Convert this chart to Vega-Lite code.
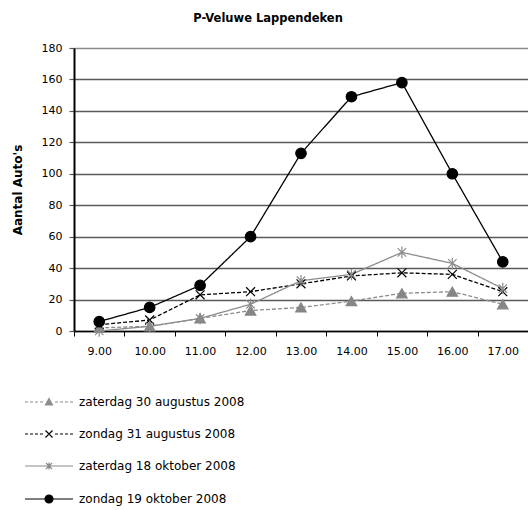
{
  "$schema": "https://vega.github.io/schema/vega-lite/v6.json",
  "width": 454,
  "height": 283,
  "autosize": {"type": "none"},
  "padding": {"left": 74, "top": 48, "right": 0, "bottom": 179},
  "background": "white",
  "config": {"font": "DejaVu Sans", "view": {"stroke": null}},
  "title": {"text": "P-Veluwe Lappendeken", "fontSize": 11.5, "fontWeight": "bold", "color": "#000", "baseline": "alphabetic", "offset": 9, "dx": -33},
  "data": {"values": [
    {"tijd": "9.00", "serie": "zaterdag 30 augustus 2008", "aantal": 2},
    {"tijd": "10.00", "serie": "zaterdag 30 augustus 2008", "aantal": 3},
    {"tijd": "11.00", "serie": "zaterdag 30 augustus 2008", "aantal": 8},
    {"tijd": "12.00", "serie": "zaterdag 30 augustus 2008", "aantal": 13},
    {"tijd": "13.00", "serie": "zaterdag 30 augustus 2008", "aantal": 15},
    {"tijd": "14.00", "serie": "zaterdag 30 augustus 2008", "aantal": 19},
    {"tijd": "15.00", "serie": "zaterdag 30 augustus 2008", "aantal": 24},
    {"tijd": "16.00", "serie": "zaterdag 30 augustus 2008", "aantal": 25},
    {"tijd": "17.00", "serie": "zaterdag 30 augustus 2008", "aantal": 17},
    {"tijd": "9.00", "serie": "zondag 31 augustus 2008", "aantal": 4},
    {"tijd": "10.00", "serie": "zondag 31 augustus 2008", "aantal": 7},
    {"tijd": "11.00", "serie": "zondag 31 augustus 2008", "aantal": 23},
    {"tijd": "12.00", "serie": "zondag 31 augustus 2008", "aantal": 25},
    {"tijd": "13.00", "serie": "zondag 31 augustus 2008", "aantal": 30},
    {"tijd": "14.00", "serie": "zondag 31 augustus 2008", "aantal": 35},
    {"tijd": "15.00", "serie": "zondag 31 augustus 2008", "aantal": 37},
    {"tijd": "16.00", "serie": "zondag 31 augustus 2008", "aantal": 36},
    {"tijd": "17.00", "serie": "zondag 31 augustus 2008", "aantal": 25},
    {"tijd": "9.00", "serie": "zaterdag 18 oktober 2008", "aantal": 0},
    {"tijd": "10.00", "serie": "zaterdag 18 oktober 2008", "aantal": 3},
    {"tijd": "11.00", "serie": "zaterdag 18 oktober 2008", "aantal": 8},
    {"tijd": "12.00", "serie": "zaterdag 18 oktober 2008", "aantal": 17},
    {"tijd": "13.00", "serie": "zaterdag 18 oktober 2008", "aantal": 32},
    {"tijd": "14.00", "serie": "zaterdag 18 oktober 2008", "aantal": 36},
    {"tijd": "15.00", "serie": "zaterdag 18 oktober 2008", "aantal": 50},
    {"tijd": "16.00", "serie": "zaterdag 18 oktober 2008", "aantal": 43},
    {"tijd": "17.00", "serie": "zaterdag 18 oktober 2008", "aantal": 27},
    {"tijd": "9.00", "serie": "zondag 19 oktober 2008", "aantal": 6},
    {"tijd": "10.00", "serie": "zondag 19 oktober 2008", "aantal": 15},
    {"tijd": "11.00", "serie": "zondag 19 oktober 2008", "aantal": 29},
    {"tijd": "12.00", "serie": "zondag 19 oktober 2008", "aantal": 60},
    {"tijd": "13.00", "serie": "zondag 19 oktober 2008", "aantal": 113},
    {"tijd": "14.00", "serie": "zondag 19 oktober 2008", "aantal": 149},
    {"tijd": "15.00", "serie": "zondag 19 oktober 2008", "aantal": 158},
    {"tijd": "16.00", "serie": "zondag 19 oktober 2008", "aantal": 100},
    {"tijd": "17.00", "serie": "zondag 19 oktober 2008", "aantal": 44}
  ]},
  "encoding": {
    "x": {
      "field": "tijd", "type": "ordinal", "sort": null, "bandPosition": 0.5,
      "scale": {"type": "band", "paddingInner": 0, "paddingOuter": 0},
      "axis": {"title": null, "labelAngle": 0, "tickBand": "extent", "grid": false,
        "domainColor": "#000", "domainWidth": 1.5, "tickColor": "#000", "tickWidth": 1, "tickSize": 5,
        "labelPadding": 9, "labelFontSize": 11, "labelColor": "#000", "labelFont": "DejaVu Sans"}
    },
    "y": {
      "field": "aantal", "type": "quantitative",
      "scale": {"domain": [0, 180], "nice": false},
      "axis": {"values": [0, 20, 40, 60, 80, 100, 120, 140, 160, 180],
        "title": "Aantal Auto's", "titleFontSize": 12, "titleFontWeight": "bold", "titleColor": "#000", "titleFont": "DejaVu Sans", "titlePadding": 17,
        "grid": true, "gridColor": {"condition": {"test": "datum.value === 180", "value": "#8a8a8a"}, "value": "#5a5a5a"}, "gridWidth": 1.3,
        "domainColor": "#000", "domainWidth": 2, "tickColor": "#5a5a5a", "tickSize": 5, "tickWidth": 1.2,
        "labelPadding": 7, "labelFontSize": 11, "labelColor": "#000", "labelFont": "DejaVu Sans"}
    }
  },
  "resolve": {"scale": {"shape": "independent", "fill": "independent", "stroke": "independent"}},
  "layer": [
    {
      "mark": {"type": "line", "strokeWidth": 1.3},
      "encoding": {
        "color": {
          "field": "serie", "type": "nominal", "legend": null,
          "scale": {"domain": ["zaterdag 30 augustus 2008", "zondag 31 augustus 2008", "zaterdag 18 oktober 2008", "zondag 19 oktober 2008"],
                    "range": ["#8c8c8c", "#000000", "#8c8c8c", "#000000"]}
        },
        "strokeDash": {
          "field": "serie", "type": "nominal", "legend": null,
          "scale": {"domain": ["zaterdag 30 augustus 2008", "zondag 31 augustus 2008", "zaterdag 18 oktober 2008", "zondag 19 oktober 2008"],
                    "range": [[4, 2], [4, 2], [1, 0], [1, 0]]}
        }
      }
    },
    {
      "mark": {"type": "point", "filled": true, "size": 110, "strokeWidth": 1.2, "opacity": 1},
      "encoding": {
        "fill": {
          "field": "serie", "type": "nominal", "legend": null,
          "scale": {"domain": ["zaterdag 30 augustus 2008", "zondag 31 augustus 2008", "zaterdag 18 oktober 2008", "zondag 19 oktober 2008"],
                    "range": ["#868686", "#000000", "#8c8c8c", "#000000"]}
        },
        "stroke": {
          "field": "serie", "type": "nominal", "legend": null,
          "scale": {"domain": ["zaterdag 30 augustus 2008", "zondag 31 augustus 2008", "zaterdag 18 oktober 2008", "zondag 19 oktober 2008"],
                    "range": ["#868686", "#000000", "#8c8c8c", "#000000"]}
        },
        "shape": {
          "field": "serie", "type": "nominal", "legend": null,
          "scale": {"domain": ["zaterdag 30 augustus 2008", "zondag 31 augustus 2008", "zaterdag 18 oktober 2008", "zondag 19 oktober 2008"],
                    "range": ["triangle-up", "M-0.85,-0.85L0.85,0.85M-0.85,0.85L0.85,-0.85", "M-0.8,-0.8L0.8,0.8M-0.8,0.8L0.8,-0.8M0,-1.1V1.1", "circle"]}
        }
      }
    },
    {
      "mark": {"type": "point", "filled": true, "size": 4, "strokeWidth": 1.2, "opacity": 0},
      "encoding": {
        "fill": {
          "field": "serie", "type": "nominal",
          "scale": {"domain": ["zaterdag 30 augustus 2008", "zondag 31 augustus 2008", "zaterdag 18 oktober 2008", "zondag 19 oktober 2008"],
                    "range": ["#8c8c8c", "#000000", "#8c8c8c", "#000000"]},
          "legend": {"orient": "none", "legendX": -31, "legendY": 348, "title": null, "direction": "vertical",
            "labelFont": "DejaVu Sans", "labelFontSize": 12, "labelColor": "#000", "labelLimit": 400, "symbolSize": 4, "symbolOpacity": 1, "symbolStrokeWidth": 1.2,
            "labelOffset": 24, "rowPadding": 20, "padding": 0}
        },
        "stroke": {
          "field": "serie", "type": "nominal",
          "scale": {"domain": ["zaterdag 30 augustus 2008", "zondag 31 augustus 2008", "zaterdag 18 oktober 2008", "zondag 19 oktober 2008"],
                    "range": ["#8c8c8c", "#000000", "#8c8c8c", "#000000"]},
          "legend": {"orient": "none", "legendX": -31, "legendY": 348, "title": null, "direction": "vertical",
            "labelFont": "DejaVu Sans", "labelFontSize": 12, "labelColor": "#000", "labelLimit": 400, "symbolSize": 4, "symbolOpacity": 1, "symbolStrokeWidth": 1.2,
            "labelOffset": 24, "rowPadding": 20, "padding": 0}
        },
        "shape": {
          "field": "serie", "type": "nominal",
          "scale": {"domain": ["zaterdag 30 augustus 2008", "zondag 31 augustus 2008", "zaterdag 18 oktober 2008", "zondag 19 oktober 2008"],
                    "range": [
                      "M-24,0H-21M-19,0H-16M-14,0H-11M-9,0H-6M6,0H9M11,0H14M16,0H19M21,0H24M0,-3.5L3.5,3L-3.5,3Z",
                      "M-24,0H-21M-19,0H-16M-14,0H-11M-9,0H-6M6,0H9M11,0H14M16,0H19M21,0H24M-3.5,-3.5L3.5,3.5M-3.5,3.5L3.5,-3.5",
                      "M-24,0H24M-3,-3L3,3M-3,3L3,-3M0,-3.5V3.5",
                      "M-24,0H24M-4,0A4,4,0,1,1,4,0A4,4,0,1,1,-4,0Z"]},
          "legend": {"orient": "none", "legendX": -31, "legendY": 348, "title": null, "direction": "vertical",
            "labelFont": "DejaVu Sans", "labelFontSize": 12, "labelColor": "#000", "labelLimit": 400, "symbolSize": 4, "symbolOpacity": 1, "symbolStrokeWidth": 1.2,
            "labelOffset": 24, "rowPadding": 20, "padding": 0}
        }
      }
    }
  ]
}
